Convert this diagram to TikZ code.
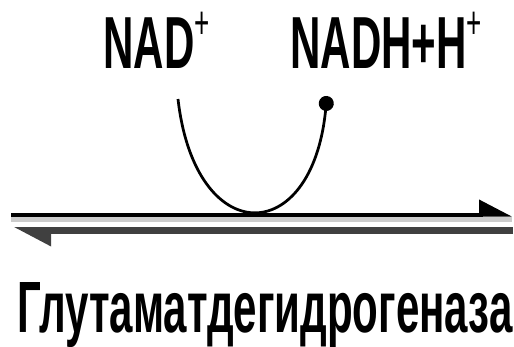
\documentclass[tikz,border=0pt]{standalone}
\usepackage{fontspec}
\usepackage{graphicx}
\newfontfamily\labelfont{Liberation Sans}
\usetikzlibrary{arrows.meta, positioning}

\newcommand{\narrowtext}[1]{\scalebox{0.57}[1]{\fontsize{42}{42}\selectfont\bfseries #1}}
\newcommand{\charge}{\raisebox{0.6cm}{\fontsize{26}{26}\selectfont\mdseries +}}

\begin{document}
\begin{tikzpicture}[
    every node/.style={font=\labelfont, inner sep=0pt},
    label/.style={anchor=base west},
    fwdline/.style={line width=0.08cm, -{Triangle[harpoon, length=0.58cm, width=0.58cm]}},
    revline/.style={line width=0.14cm, black!75, -{Triangle[harpoon, length=0.62cm, width=0.6cm]}},
    shade/.style={line width=0.1cm, gray!40},
    cofactor/.style={line width=0.055cm, -{Circle[length=0.3cm]}}
]
\useasboundingbox (0,0) rectangle (10.28,6.92);

% Cofactors
\node[label] (nad) at (2.06,5.56) {\narrowtext{NAD\charge}};
\node[label] (nadh) at (5.80,5.56) {\narrowtext{NADH+H\charge}};

% Enzyme
\node[label] (enzyme) at (0.34,0.28) {\resizebox{9.9cm}{1.0cm}{\bfseries Глутаматдегидрогеназа}};

% Line ends
\coordinate (fwdL) at (0.22,2.63);
\coordinate (fwdR) at (10.24,2.63);
\coordinate (revL) at (0.26,2.31);
\coordinate (revR) at (10.26,2.31);
\coordinate (inL) at (3.56,4.94);
\coordinate (outR) at (6.54,5.0);

% Reaction lines
\draw[shade] ([yshift=-0.1cm]fwdL) -- ([yshift=-0.1cm]fwdR);
\draw[fwdline] (fwdL) -- (fwdR);
\draw[revline] (revR) -- (revL);

% Cofactor curve
\draw[cofactor] (inL) .. controls (3.90,1.94) and (6.24,1.94) .. (outR);

\end{tikzpicture}
\end{document}
